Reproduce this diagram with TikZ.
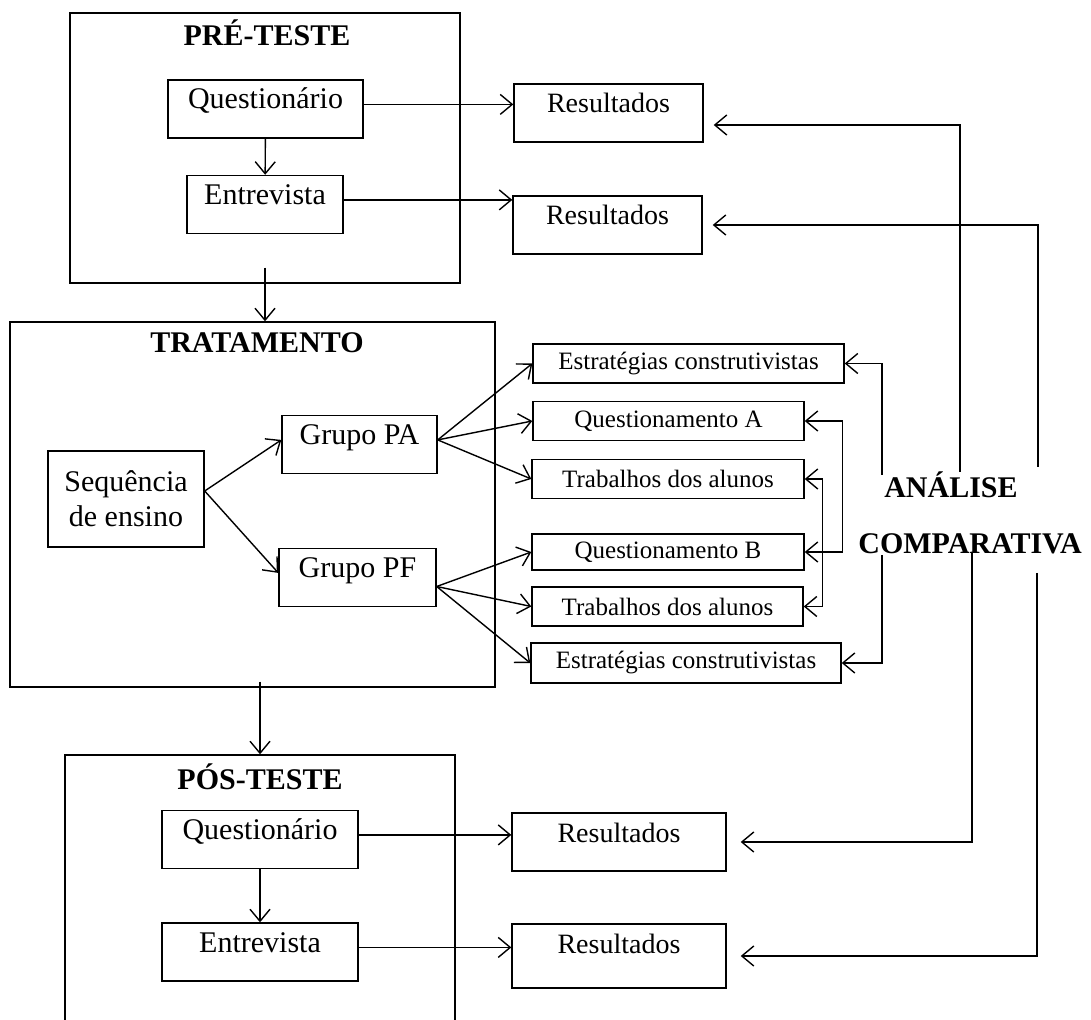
\documentclass[tikz,border=0pt]{standalone}
\usepackage{fontspec}
\setmainfont{Liberation Serif}
\usetikzlibrary{arrows.meta}

\begin{document}
\begin{tikzpicture}[x=0.5pt,y=-0.5pt,line width=0.7pt,
    arr/.style={-{Straight Barb[length=6pt,width=10pt]}},
    dbl/.style={{Straight Barb[length=6pt,width=10pt]}-{Straight Barb[length=6pt,width=10pt]}},
    frame/.style={draw,rectangle,inner sep=0pt},
    title/.style={font=\fontsize{15}{18}\selectfont\bfseries},
    bigbox/.style={draw,font=\fontsize{15}{18}\selectfont,text height=11pt,text depth=11pt,inner ysep=3.5pt,inner xsep=0pt},
    resbox/.style={bigbox,font=\fontsize{14}{17}\selectfont},
    smallbox/.style={draw,font=\fontsize{12.5}{15}\selectfont,inner sep=0pt,minimum height=19.5pt}]
    \useasboundingbox (0,0) rectangle (1091,1020);
    \node[frame,minimum width=195pt,minimum height=135pt] (pre) at (265,148) {};
    \node[title] (preT) at (267,33) {PRÉ-TESTE};
    \node[bigbox,minimum width=97.5pt] (q1) at (265.5,109) {Questionário};
    \node[bigbox,minimum width=78pt] (e1) at (265,204.5) {Entrevista};
    \node[resbox,minimum width=94.5pt] (r1) at (608.5,113) {Resultados};
    \node[resbox,minimum width=94.5pt] (r2) at (607.5,225) {Resultados};
    \node[frame,minimum width=242.5pt,minimum height=182.5pt] (trat) at (252.5,504.5) {};
    \node[title] (tratT) at (257,343) {TRATAMENTO};
    \node[draw,align=center,font=\fontsize{15}{17.5}\selectfont,minimum width=78pt,minimum height=48pt,inner sep=0pt] (seq) at (126,499) {Sequência\\de ensino};
    \node[bigbox,minimum width=77.5pt] (gpa) at (359.5,444.5) {Grupo PA};
    \node[bigbox,minimum width=78.5pt] (gpf) at (357.5,577.5) {Grupo PF};
    \node[smallbox,minimum width=155.5pt] (es1) at (688.5,363.5) {Estratégias construtivistas};
    \node[smallbox,minimum width=135.5pt] (qa) at (668.5,421) {Questionamento A};
    \node[smallbox,minimum width=136pt] (ta) at (668,479) {Trabalhos dos alunos};
    \node[smallbox,minimum width=136pt,minimum height=18pt] (qb) at (668,552) {Questionamento B};
    \node[smallbox,minimum width=135.5pt] (tb) at (667.5,606.5) {Trabalhos dos alunos};
    \node[smallbox,minimum width=155pt,minimum height=20pt] (es2) at (686,663) {Estratégias construtivistas};
    \node[title] (anl) at (951,485) {ANÁLISE};
    \node[title] (cmp) at (970,544) {COMPARATIVA};
    \node[frame,minimum width=195pt,minimum height=145pt] (pos) at (260,900) {};
    \node[title] (posT) at (260,777) {PÓS-TESTE};
    \node[bigbox,minimum width=98pt] (q3) at (260,839.5) {Questionário};
    \node[bigbox,minimum width=98pt] (e3) at (260,952) {Entrevista};
    \node[resbox,minimum width=107pt] (r3) at (619,842) {Resultados};
    \node[resbox,minimum width=107pt,text depth=14pt] (r4) at (619,956) {Resultados};
    \coordinate (ua) at (882,475);
    \coordinate (ub) at (960,472);
    \coordinate (uc) at (1038,467);
    \coordinate (da) at (882,555);
    \coordinate (db) at (972,552);
    \coordinate (dc) at (1037,573);
    \draw[arr] (q1) -- (e1);
    \draw[arr] (q1.mid east) -- (q1.mid east -| r1.west);
    \draw[arr] (e1.mid east) -- (e1.mid east -| r2.west);
    \draw[arr] ([yshift=8pt]pre.south) -- (pre.south |- trat.north);
    \draw[arr] ([yshift=4pt]seq.east) -- (gpa.mid west);
    \draw[arr] ([yshift=4pt]seq.east) -- (gpf.mid west);
    \draw[arr] (gpa.mid east) -- (es1.west);
    \draw[arr] (gpa.mid east) -- (qa.west);
    \draw[arr] (gpa.mid east) -- (ta.west);
    \draw[arr] ([yshift=-4.5pt]gpf.east) -- (qb.west);
    \draw[arr] ([yshift=-4.5pt]gpf.east) -- (tb.west);
    \draw[arr] ([yshift=-4.5pt]gpf.east) -- (es2.west);
    \draw[dbl] (qa.east) -- ++(19pt,0) |- (qb.east);
    \draw[dbl] (ta.east) -- ++(9pt,0) |- (tb.east);
    \draw[arr] (ua) |- (es1.east);
    \draw[arr,shorten >=5pt] (ub) |- ([yshift=-6pt]r1.east);
    \draw[arr,shorten >=5pt] (uc) |- (r2.east);
    \draw[arr] (da) |- (es2.east);
    \draw[arr,shorten >=7pt] (db) |- (r3.east);
    \draw[arr,shorten >=7pt] (dc) |- (r4.east);
    \draw[arr] ([yshift=3pt]pos.north |- trat.south) -- (pos.north);
    \draw[arr] (q3) -- (e3);
    \draw[arr] (q3.mid east) -- (q3.mid east -| r3.west);
    \draw[arr] (e3.mid east) -- (e3.mid east -| r4.west);
\end{tikzpicture}
\end{document}
